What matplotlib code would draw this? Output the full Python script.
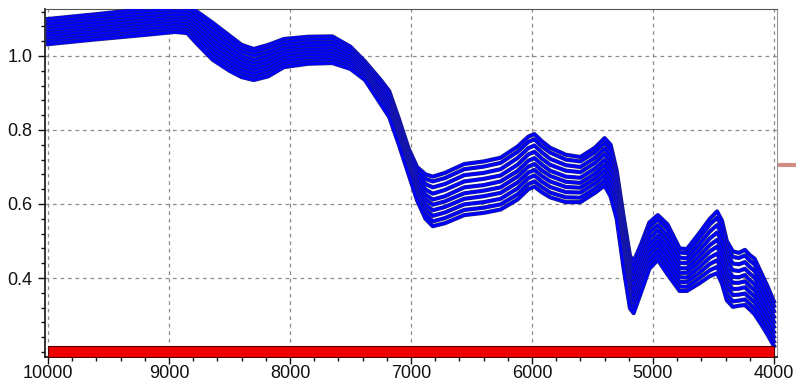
import matplotlib
matplotlib.use("Agg")
import matplotlib.pyplot as plt
import matplotlib.patheffects as pe
from matplotlib.ticker import MultipleLocator
from matplotlib.lines import Line2D

# Wavenumber grid (cm-1) shared by all spectra
wavenumber = [10000, 9600, 9200, 8950, 8850, 8760, 8640, 8500, 8400, 8300,
              8180, 8050, 7850, 7650, 7500, 7380, 7250, 7180, 7100, 7020,
              6950, 6880, 6820, 6720, 6560, 6400, 6260, 6120, 6030, 5980,
              5920, 5850, 5720, 5600, 5480, 5400, 5350, 5300, 5240, 5190,
              5160, 5100, 5030, 4960, 4880, 4780, 4720, 4620, 4530, 4470,
              4430, 4390, 4340, 4290, 4240, 4200, 4160, 4100, 4050, 4000]

# Absorbance spectra of the individual samples
s01 = [1.100, 1.113, 1.127, 1.136, 1.135, 1.118, 1.090, 1.055, 1.030, 1.019,
       1.030, 1.046, 1.052, 1.053, 1.025, 0.985, 0.935, 0.905, 0.830, 0.750,
       0.700, 0.680, 0.674, 0.684, 0.708, 0.715, 0.725, 0.755, 0.782, 0.789,
       0.770, 0.752, 0.733, 0.727, 0.752, 0.778, 0.760, 0.690, 0.560, 0.460,
       0.445, 0.490, 0.550, 0.570, 0.545, 0.480, 0.478, 0.520, 0.560, 0.580,
       0.555, 0.500, 0.472, 0.468, 0.476, 0.462, 0.452, 0.410, 0.375, 0.336]
s02 = [1.093, 1.106, 1.120, 1.129, 1.128, 1.109, 1.080, 1.046, 1.021, 1.011,
       1.022, 1.038, 1.045, 1.046, 1.019, 0.980, 0.929, 0.898, 0.823, 0.743,
       0.691, 0.668, 0.661, 0.670, 0.694, 0.701, 0.711, 0.741, 0.768, 0.775,
       0.756, 0.739, 0.720, 0.715, 0.740, 0.765, 0.746, 0.677, 0.546, 0.446,
       0.431, 0.477, 0.538, 0.558, 0.532, 0.469, 0.467, 0.507, 0.545, 0.563,
       0.538, 0.484, 0.457, 0.454, 0.461, 0.447, 0.437, 0.396, 0.362, 0.324]
s03 = [1.085, 1.098, 1.112, 1.120, 1.119, 1.099, 1.068, 1.034, 1.011, 1.001,
       1.011, 1.029, 1.036, 1.037, 1.012, 0.974, 0.921, 0.890, 0.815, 0.735,
       0.680, 0.654, 0.645, 0.654, 0.678, 0.684, 0.694, 0.724, 0.751, 0.758,
       0.740, 0.722, 0.705, 0.700, 0.725, 0.750, 0.729, 0.661, 0.529, 0.429,
       0.414, 0.461, 0.523, 0.543, 0.515, 0.455, 0.453, 0.490, 0.526, 0.543,
       0.518, 0.465, 0.439, 0.437, 0.443, 0.430, 0.419, 0.380, 0.346, 0.310]
s04 = [1.077, 1.090, 1.103, 1.112, 1.110, 1.088, 1.056, 1.023, 1.000, 0.990,
       1.001, 1.020, 1.027, 1.029, 1.005, 0.968, 0.913, 0.881, 0.806, 0.726,
       0.669, 0.639, 0.628, 0.638, 0.661, 0.668, 0.677, 0.706, 0.734, 0.741,
       0.723, 0.706, 0.690, 0.686, 0.711, 0.735, 0.712, 0.646, 0.512, 0.412,
       0.397, 0.446, 0.508, 0.529, 0.499, 0.441, 0.440, 0.474, 0.507, 0.523,
       0.497, 0.446, 0.421, 0.419, 0.425, 0.412, 0.401, 0.363, 0.331, 0.295]
s05 = [1.069, 1.082, 1.095, 1.103, 1.101, 1.078, 1.044, 1.011, 0.990, 0.980,
       0.991, 1.011, 1.018, 1.020, 0.997, 0.962, 0.905, 0.873, 0.798, 0.718,
       0.659, 0.625, 0.612, 0.621, 0.645, 0.651, 0.661, 0.689, 0.717, 0.724,
       0.707, 0.690, 0.674, 0.671, 0.696, 0.719, 0.696, 0.630, 0.496, 0.395,
       0.381, 0.430, 0.493, 0.514, 0.483, 0.427, 0.426, 0.458, 0.489, 0.503,
       0.477, 0.426, 0.403, 0.402, 0.408, 0.394, 0.383, 0.347, 0.315, 0.281]
s06 = [1.061, 1.074, 1.087, 1.096, 1.093, 1.068, 1.033, 1.001, 0.980, 0.971,
       0.982, 1.003, 1.010, 1.012, 0.991, 0.957, 0.898, 0.865, 0.790, 0.710,
       0.649, 0.612, 0.598, 0.607, 0.629, 0.636, 0.645, 0.674, 0.701, 0.708,
       0.691, 0.676, 0.660, 0.657, 0.682, 0.705, 0.680, 0.616, 0.480, 0.379,
       0.365, 0.416, 0.479, 0.501, 0.468, 0.414, 0.414, 0.443, 0.472, 0.485,
       0.458, 0.409, 0.387, 0.387, 0.391, 0.378, 0.367, 0.331, 0.301, 0.268]
s07 = [1.054, 1.067, 1.079, 1.088, 1.085, 1.058, 1.022, 0.991, 0.971, 0.962,
       0.972, 0.994, 1.002, 1.004, 0.984, 0.951, 0.891, 0.857, 0.782, 0.702,
       0.639, 0.598, 0.583, 0.592, 0.614, 0.621, 0.630, 0.658, 0.685, 0.692,
       0.676, 0.661, 0.646, 0.644, 0.669, 0.691, 0.665, 0.602, 0.465, 0.363,
       0.350, 0.402, 0.465, 0.488, 0.453, 0.402, 0.401, 0.428, 0.455, 0.466,
       0.439, 0.391, 0.370, 0.371, 0.375, 0.362, 0.350, 0.316, 0.287, 0.254]
s08 = [1.046, 1.059, 1.072, 1.080, 1.077, 1.049, 1.011, 0.980, 0.961, 0.953,
       0.963, 0.986, 0.994, 0.996, 0.978, 0.946, 0.884, 0.850, 0.775, 0.695,
       0.629, 0.585, 0.568, 0.577, 0.599, 0.605, 0.614, 0.642, 0.670, 0.677,
       0.661, 0.646, 0.632, 0.631, 0.656, 0.677, 0.649, 0.587, 0.449, 0.348,
       0.334, 0.387, 0.451, 0.474, 0.438, 0.389, 0.389, 0.413, 0.438, 0.448,
       0.421, 0.374, 0.354, 0.355, 0.358, 0.346, 0.334, 0.301, 0.272, 0.241]
s09 = [1.039, 1.052, 1.064, 1.072, 1.069, 1.039, 1.000, 0.970, 0.952, 0.943,
       0.954, 0.978, 0.986, 0.988, 0.971, 0.940, 0.877, 0.842, 0.767, 0.687,
       0.619, 0.572, 0.553, 0.562, 0.584, 0.590, 0.599, 0.626, 0.654, 0.661,
       0.646, 0.631, 0.618, 0.617, 0.642, 0.663, 0.634, 0.573, 0.434, 0.332,
       0.319, 0.373, 0.438, 0.461, 0.424, 0.377, 0.376, 0.399, 0.421, 0.430,
       0.402, 0.356, 0.337, 0.339, 0.342, 0.330, 0.317, 0.286, 0.258, 0.228]
s10 = [1.032, 1.045, 1.057, 1.065, 1.062, 1.030, 0.990, 0.960, 0.943, 0.935,
       0.945, 0.970, 0.979, 0.981, 0.965, 0.935, 0.870, 0.835, 0.760, 0.680,
       0.610, 0.560, 0.540, 0.548, 0.570, 0.576, 0.585, 0.612, 0.640, 0.647,
       0.632, 0.618, 0.605, 0.605, 0.630, 0.650, 0.620, 0.560, 0.420, 0.318,
       0.305, 0.360, 0.425, 0.449, 0.410, 0.365, 0.365, 0.385, 0.405, 0.413,
       0.385, 0.340, 0.322, 0.325, 0.327, 0.315, 0.302, 0.272, 0.245, 0.216]
spectra = [s01, s02, s03, s04, s05, s06, s07, s08, s09, s10]

# Selected spectral range shown as a bar under the spectra
region_start, region_end = 10000, 4000
region_low, region_high = 0.186, 0.217

x_ticks = [10000, 9000, 8000, 7000, 6000, 5000, 4000]
y_ticks = [0.4, 0.6, 0.8, 1.0]

plt.rcParams['font.family'] = ['Liberation Sans', 'DejaVu Sans']

fig = plt.figure(figsize=(7.96, 3.83), dpi=100)
ax = fig.add_axes([45 / 796, 26 / 383, 732 / 796, 348 / 383])

ax.set_xlim(10025, 3975)
ax.set_ylim(0.1865, 1.127)

ax.grid(True, which='major', color='#8c8c8c', linestyle=(0, (3, 3)), linewidth=0.9)
ax.set_axisbelow(True)

edge = [pe.Stroke(linewidth=3.0, foreground='#22227a'), pe.Normal()]
for s in spectra:
    ax.plot(wavenumber, s, color='#0000ff', linewidth=2.1,
            solid_joinstyle='round', path_effects=edge, zorder=3)

ax.fill_between([region_start, region_end], region_low, region_high,
                facecolor='#ee0000', edgecolor='#550000', linewidth=0.8, zorder=4)

ax.set_xticks(x_ticks)
ax.set_xticklabels([str(v) for v in x_ticks])
ax.set_yticks(y_ticks)
ax.set_yticklabels([f"{v:.1f}" for v in y_ticks])
ax.xaxis.set_minor_locator(MultipleLocator(200))
ax.yaxis.set_minor_locator(MultipleLocator(0.04))
ax.tick_params(which='major', direction='out', length=5, width=1,
               labelsize=13, colors='#111111')
ax.tick_params(axis='x', which='major', pad=1)
ax.tick_params(axis='y', which='major', pad=4)
ax.tick_params(which='minor', direction='out', length=3, width=1, colors='#111111')
ax.tick_params(axis='x', which='both', top=False)
ax.tick_params(axis='y', which='both', right=False)

for side in ('left', 'bottom'):
    ax.spines[side].set_color('#111111')
    ax.spines[side].set_linewidth(1.2)
ax.spines['top'].set_color('#555555')
ax.spines['right'].set_color('#999999')

# short connector stub leaving the panel on the right
fig.add_artist(Line2D([778 / 796, 1.0], [1 - 165 / 383, 1 - 165 / 383],
                      color='#cf8d84', linewidth=3, solid_capstyle='butt'))

fig.savefig('out.png', dpi=100)
